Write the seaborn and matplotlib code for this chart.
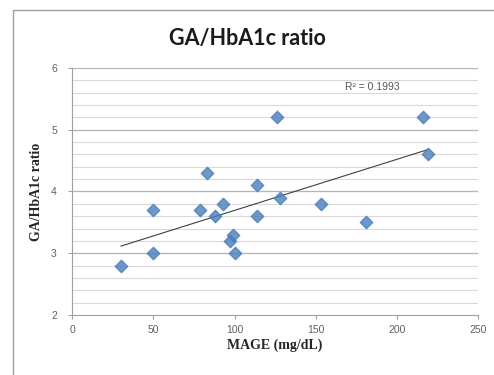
import numpy as np
import pandas as pd
import matplotlib
matplotlib.use("Agg")
import matplotlib.pyplot as plt
import seaborn as sns
from matplotlib.patches import Rectangle

# ── data ────────────────────────────────────────────────
mage = [30, 50, 50, 79, 83, 88, 93, 97, 99, 100, 114, 114, 126, 128, 153, 181, 216, 219]
ratio = [2.8, 3.0, 3.7, 3.7, 4.3, 3.6, 3.8, 3.2, 3.3, 3.0, 4.1, 3.6, 5.2, 3.9, 3.8, 3.5, 5.2, 4.6]
x_ticks = [0, 50, 100, 150, 200, 250]
y_ticks = [2, 3, 4, 5, 6]

df = pd.DataFrame({"MAGE": mage, "ratio": ratio})

sns.set_style("white")
plt.rcParams["font.family"] = ["Liberation Sans", "DejaVu Sans"]

fig = plt.figure(figsize=(4.94, 3.75), dpi=100)
ax = fig.add_axes([0.146, 0.16, 0.822, 0.659])

# chart border (Excel style)
fig.patches.append(Rectangle((13 / 494, -0.1), 1.2, 1.1 - 10 / 375,
                             transform=fig.transFigure, fill=False,
                             edgecolor="#a0a0a0", linewidth=1.0))

# grid: minor every 0.2, major every 1
for v in np.arange(2.2, 6.0, 0.2):
    ax.axhline(v, color="#d9d9d9", lw=0.8, zorder=0)
for v in y_ticks[1:]:
    ax.axhline(v, color="#b5b5b5", lw=0.9, zorder=0)

sns.regplot(data=df, x="MAGE", y="ratio", ax=ax, ci=None, truncate=True, marker="D",
            scatter_kws=dict(s=40, color="#4a7ebb", edgecolor="#4a7ebb", zorder=3),
            line_kws=dict(color="#404040", lw=0.8, zorder=2))

ax.set_xlim(0, 250)
ax.set_ylim(2, 6)
ax.set_xticks(x_ticks)
ax.set_yticks(y_ticks)
ax.tick_params(axis="both", labelsize=7.5, labelcolor="#606060", length=3, color="#a0a0a0",
               direction="out")
ax.tick_params(axis="x", bottom=True, pad=4)
ax.tick_params(axis="y", left=True, pad=8)
for s in ["top", "right"]:
    ax.spines[s].set_visible(False)
for s in ["left", "bottom"]:
    ax.spines[s].set_color("#a0a0a0")
    ax.spines[s].set_linewidth(0.8)

ax.set_xlabel("MAGE (mg/dL)", family="Liberation Serif", fontweight="bold", fontsize=10, labelpad=3)
ax.set_ylabel("GA/HbA1c ratio", family="Liberation Serif", fontweight="bold", fontsize=10, labelpad=6)
fig.text(0.5, 0.897, "GA/HbA1c ratio", ha="center", va="center", fontsize=15.5, fontweight="bold",
         color="#1a1a1a", family=["Lato", "DejaVu Sans"])
ax.text(168, 5.69, "R² = 0.1993", fontsize=7.5, color="#555555", va="center")

fig.savefig("out.png", dpi=100)
